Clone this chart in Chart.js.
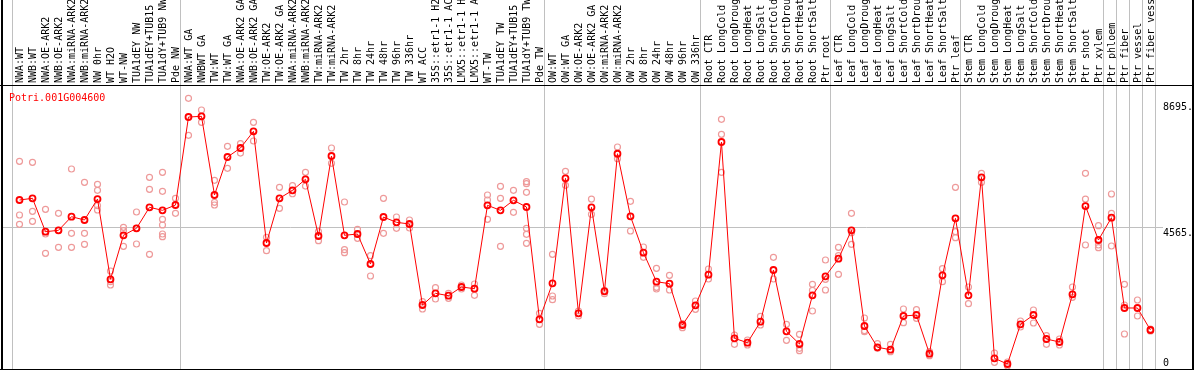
<!DOCTYPE html>
<html>
<head>
<meta charset="utf-8">
<script src="https://cdn.jsdelivr.net/npm/chart.js@4"></script>
<style>
  html, body { margin: 0; padding: 0; background: #fff; }
  canvas { display: block; }
</style>
</head>
<body>
<canvas id="grafico" width="1194" height="370"></canvas>
<script>
const GEN = "Potri.001G004600";

const categorias = [
  "NWA:WT", "NWB:WT", "NWA:OE-ARK2", "NWB:OE-ARK2", "NWA:miRNA-ARK2", "NWB:miRNA-ARK2",
  "NW 0hr", "WT H2O", "WT-NW", "TUA1dEY NW", "TUA1dEY+TUB15 NW", "TUA1dY+TUB9 NW", "Pde NW",
  "NWA:WT GA", "NWBWT GA", "TW:WT", "TW:WT GA", "NWA:OE-ARK2 GA", "NWB:OE-ARK2 GA",
  "TW:OE-ARK2", "TW:OE-ARK2 GA", "NWA:miRNA-ARK2 GA", "NWB:miRNA-ARK2 GA", "TW:miRNA-ARK2",
  "TW:miRNA-ARK2 GA", "TW 2hr", "TW 8hr", "TW 24hr", "TW 48hr", "TW 96hr", "TW 336hr",
  "WT ACC", "35S::etr1-1 H2O", "35S::etr1-1 ACC", "LMX5::etr1-1 H2O", "LMX5::etr1-1 ACC",
  "WT-TW", "TUA1dEY TW", "TUA1dEY+TUB15 TW", "TUA1dY+TUB9 TW", "Pde TW",
  "OW:WT", "OW:WT GA", "OW:OE-ARK2", "OW:OE-ARK2 GA", "OW:miRNA-ARK2", "OW:miRNA-ARK2 GA",
  "OW 2hr", "OW 8hr", "OW 24hr", "OW 48hr", "OW 96hr", "OW 336hr",
  "Root CTR", "Root LongCold", "Root LongDrought", "Root LongHeat", "Root LongSalt",
  "Root ShortCold", "Root ShortDrought", "Root ShortHeat", "Root ShortSalt", "Ptr root",
  "Leaf CTR", "Leaf LongCold", "Leaf LongDrought", "Leaf LongHeat", "Leaf LongSalt",
  "Leaf ShortCold", "Leaf ShortDrought", "Leaf ShortHeat", "Leaf ShortSalt", "Ptr leaf",
  "Stem CTR", "Stem LongCold", "Stem LongDrought", "Stem LongHeat", "Stem LongSalt",
  "Stem ShortCold", "Stem ShortDrought", "Stem ShortHeat", "Stem ShortSalt",
  "Ptr shoot", "Ptr xylem", "Ptr phloem", "Ptr fiber", "Ptr vessel", "Ptr fiber vessel"
];

// promedio por muestra
const medias = [
  5470, 5525, 4428, 4474, 4921, 4813, 5502, 2865, 4310, 4540, 5230, 5131, 5305,
  8196, 8219, 5634, 6882, 7178, 7726, 4057, 5525, 5788, 6150, 4287, 6915, 4310, 4353,
  3367, 4911, 4737, 4681, 2020, 2405, 2326, 2612, 2556, 5295, 5131, 5460, 5240, 1551,
  2733, 6182, 1748, 5230, 2470, 6990, 4934, 3738, 2786, 2720, 1363, 2010,
  3016, 7375, 926, 782, 1472, 3170, 1156, 739, 2339, 2963,
  3541, 4474, 1330, 631, 552, 1659, 1692, 420, 2996, 4868,
  2339, 6215, 269, 82, 1386, 1692, 903, 805, 2372, 5272, 4156,
  4888, 1922, 1922, 1199
];

// replicas individuales
const replicas = [
  [6741, 4977, 4671], [6708, 5098, 4770], [5164, 4353, 3719], [5033, 4474, 3916],
  [6488, 4376, 3916], [6051, 4376, 4014], [5985, 5788, 5282, 5141], [3137, 2786, 2677],
  [4573, 4461, 3949], [5075, 4540, 4024], [6215, 5821, 3686],
  [6380, 5755, 4836, 4648, 4353, 4264], [5525, 5033],
  [8810, 7595], [8426, 8022], [6117, 5394, 5305], [7234, 6511], [7319, 7013],
  [8022, 7408], [4244, 3804], [5887, 5197], [5939, 5676], [6380, 5929], [4428, 4133],
  [7178, 6675], [5404, 3837, 3738], [4507, 4211], [3640, 2973], [5525, 4376],
  [4911, 4540], [4813, 4550], [2129, 1889], [2589, 2217], [2405, 2240], [2677, 2546],
  [2710, 2339], [5634, 5470, 4836], [5920, 5525, 3949], [5788, 5065],
  [6071, 6005, 5722, 4540, 4343, 4047], [1748, 1386],
  [3686, 2316, 2194], [6412, 5952], [1823, 1659], [5502, 5000], [2503, 2391],
  [7211, 6826], [5427, 4451], [3926, 3587], [3226, 2602, 2546], [2996, 2513],
  [1406, 1275], [2152, 1879],
  [3203, 2874], [8121, 7628, 6380], [1035, 729], [871, 706], [1649, 1363], [3587, 2874],
  [1386, 861], [1058, 598, 519], [2700, 2503, 1823], [3499, 2865, 2513],
  [3916, 3640, 3029], [5033, 4395, 4014], [1593, 1176, 1143], [749, 598], [729, 486],
  [1889, 1439], [1866, 1583], [486, 355], [3213, 2786], [5887, 4428, 4231],
  [2612, 2063], [6347, 6051], [443, 138], [148, 16], [1495, 1298], [1856, 1429],
  [1012, 729], [903, 706], [2612, 2273], [6347, 5502, 3991], [4625, 3991, 3903],
  [5667, 5033, 3958], [2700, 2020, 1068], [2185, 1659], [1232, 1166]
];

// ultima muestra de cada grupo (-1 = borde izquierdo)
const finGrupos = [-1, 12, 40, 52, 62, 72, 83, 84, 85, 86, 87];
const marcasY = [0, 4565, 8695];
const etiquetasY = ["0", "4565.", "8695."];

const FUENTE = "DejaVu Sans Mono";
const ROJO = "#ff0000";
const ROSA = "#ee9a9a";
const GRIS = "#c0c0c0";

const puntosMedia = medias.map((v, i) => ({ x: i, y: v }));
const puntosReplica = replicas.flatMap((lista, i) => lista.map(v => ({ x: i, y: v })));

const pluginMarco = {
  id: "marco",
  beforeDatasetsDraw(chart) {
    const ctx = chart.ctx;
    const area = chart.chartArea;
    const escalaX = chart.scales.x;
    ctx.save();
    ctx.fillStyle = GRIS;
    finGrupos.forEach(i => {
      const px = Math.round(escalaX.getPixelForValue(i + 0.385));
      ctx.fillRect(px, 0, 1, area.bottom);
    });
    ctx.restore();
  },
  afterDraw(chart) {
    const ctx = chart.ctx;
    const area = chart.chartArea;
    const escalaY = chart.scales.y;
    ctx.save();
    // marco negro
    ctx.fillStyle = "#000";
    ctx.fillRect(1, 0, 2, chart.height);
    ctx.fillRect(chart.width - 2, 0, 2, chart.height);
    ctx.fillRect(0, Math.round(area.top), chart.width, 1);
    ctx.fillRect(0, chart.height - 1, chart.width, 1);

    // nombre del gen
    ctx.font = "10px '" + FUENTE + "'";
    ctx.textBaseline = "top";
    ctx.textAlign = "left";
    ctx.fillStyle = ROJO;
    ctx.fillText(GEN, area.left + 7, area.top + 8);

    // etiquetas del eje Y
    ctx.fillStyle = "#000";
    escalaY.ticks.forEach((t, i) => {
      const py = Math.min(escalaY.getPixelForValue(t.value) + 1, area.bottom - 11);
      ctx.fillText(etiquetasY[i], area.right + 8, py);
    });
    ctx.restore();
  }
};

new Chart(document.getElementById("grafico"), {
  type: "scatter",
  data: {
    datasets: [
      {
        label: "media",
        data: puntosMedia,
        showLine: true,
        borderColor: ROJO,
        borderWidth: 1,
        pointRadius: 3,
        pointBorderWidth: 1.8,
        pointBorderColor: ROJO,
        pointBackgroundColor: "rgba(0,0,0,0)",
        order: 0
      },
      {
        label: "replicas",
        data: puntosReplica,
        pointRadius: 3,
        pointBorderWidth: 1.2,
        pointBorderColor: ROSA,
        pointBackgroundColor: "rgba(0,0,0,0)",
        order: 1
      }
    ]
  },
  options: {
    responsive: false,
    animation: false,
    layout: { autoPadding: false, padding: { left: 2, right: 2, top: 0, bottom: 1 } },
    plugins: {
      legend: { display: false },
      tooltip: { enabled: false }
    },
    scales: {
      x: {
        type: "linear",
        position: "top",
        min: -1.346,
        max: 87.35,
        afterBuildTicks: escala => {
          escala.ticks = categorias.map((_, i) => ({ value: i }));
        },
        afterFit: escala => {
          escala.height = 85;
          escala.paddingLeft = 0;
          escala.paddingRight = 0;
        },
        grid: { display: false, drawTicks: false },
        border: { display: false },
        ticks: {
          autoSkip: false,
          minRotation: 90,
          maxRotation: 90,
          padding: 2,
          labelOffset: 13,
          color: "#000",
          font: { family: FUENTE, size: 10 },
          callback: valor => categorias[valor] || ""
        }
      },
      y: {
        type: "linear",
        position: "right",
        min: -82,
        max: 9248,
        afterBuildTicks: escala => {
          escala.ticks = marcasY.map(v => ({ value: v }));
        },
        afterFit: escala => {
          escala.width = 37;
          escala.paddingTop = 0;
          escala.paddingBottom = 0;
        },
        border: { display: false },
        grid: {
          drawTicks: true,
          tickLength: 8,
          lineWidth: 1,
          color: ctx => (ctx.tick && ctx.tick.value === 4565 ? GRIS : "rgba(0,0,0,0)")
        },
        ticks: { display: false }
      }
    }
  },
  plugins: [pluginMarco]
});
</script>
</body>
</html>
